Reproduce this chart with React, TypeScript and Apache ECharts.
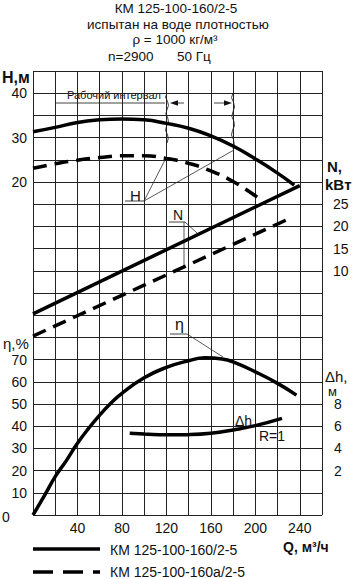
import React, { useEffect, useRef } from 'react';
import * as echarts from 'echarts';

const FONT = '"Liberation Sans", Arial, Helvetica, sans-serif';
const INK = '#111';

const SOLID = 'КМ 125-100-160/2-5';
const DASHED = 'КМ 125-100-160а/2-5';

// tick labels shown
const qLabels = [40, 80, 120, 160, 200, 240];
const etaLabels = [10, 20, 30, 40, 50, 60, 70];
const headLabels = [20, 30, 40];
const powerLabels = [10, 15, 20, 25];
const npshLabels = [2, 4, 6, 8];

// H (head), m
const headQ = [0, 20, 40, 60, 80, 100, 120, 140, 160, 180, 200, 220, 235];
const headSolid = [31.3, 32.3, 33.4, 34.0, 34.2, 34.0, 33.2, 32.1, 30.4, 28.1, 25.2, 22.0, 19.3];
const headDashQ = [0, 20, 40, 60, 80, 100, 120, 140, 160, 180, 200, 206];
const headDash = [23.1, 24.1, 24.9, 25.5, 25.9, 25.9, 25.3, 24.2, 22.5, 20.1, 16.9, 15.7];

// N (power), kW
const powerQ = [0, 240];
const powerSolid = [0.3, 29.2];
const powerDashQ = [0, 231];
const powerDash = [-4.7, 21.8];

// η (efficiency), %
const etaQ = [0, 10, 20, 30, 40, 50, 60, 70, 80, 100, 120, 140, 155, 170, 180, 200, 220, 237];
const eta = [0, 8.5, 17.3, 24.5, 32.3, 39, 45, 50.3, 54.8, 61.8, 66.5, 69.5, 70.8, 70.3, 69, 64.5, 59.3, 54];

// Δh (NPSH), m
const npshQ = [87, 100, 120, 140, 160, 180, 200, 224];
const npsh = [5.36, 5.3, 5.22, 5.24, 5.36, 5.66, 6.05, 6.7];

const pair = (qs: number[], vs: number[]) => qs.map((q, i) => [q, vs[i]]);
const only = (list: number[]) => (v: number) => (list.includes(Math.round(v * 1000) / 1000) ? String(v) : '');

const txt = (text: string, x: number, y: number, size: number, opts: any = {}) => ({
  type: 'text',
  silent: true,
  style: {
    text,
    x,
    y,
    fill: INK,
    fontSize: size,
    fontFamily: FONT,
    fontWeight: opts.bold ? 'bold' : 'normal',
    align: opts.align || 'left',
    textAlign: opts.align || 'left',
    verticalAlign: 'middle',
    textVerticalAlign: 'middle',
  },
});
const seg = (pts: number[][], w = 0.8) => ({
  type: 'polyline',
  silent: true,
  shape: { points: pts },
  style: { stroke: INK, lineWidth: w, fill: null },
});
const brace = (x: number, y0: number, y1: number) => {
  const offs = [0, -1.5, 0.5, 1.5, 0, -1.2, 0.8, 1.5, -0.5, -1.5, 0.5, 1.2, 0];
  const pts = offs.map((o, i) => [x + o, y0 + ((y1 - y0) * i) / (offs.length - 1)]);
  return seg(pts, 0.8);
};

export default function App() {
  const ref = useRef<HTMLDivElement>(null);
  useEffect(() => {
    if (!ref.current) return;
    const chart = echarts.init(ref.current, null, { renderer: 'svg' });
    const axisLabel = { fontSize: 14, fontFamily: FONT, color: INK };
    const gridLine = { show: true, lineStyle: { color: '#222', width: 1 } };
    const lineSeries = (name: string, yAxisIndex: number, data: number[][], dashed: boolean, smooth: boolean) => ({
      name,
      type: 'line',
      yAxisIndex,
      data,
      smooth,
      symbol: 'none',
      lineStyle: { color: '#000', width: 3.5, type: dashed ? [14, 8] : 'solid' },
      itemStyle: { color: '#000' },
    });
    chart.setOption({
      animation: false,
      backgroundColor: '#fff',
      grid: { left: 33, right: 33, top: 71, bottom: 64, containLabel: false },
      xAxis: {
        type: 'value',
        min: 0,
        max: 260,
        interval: 20,
        axisLine: { show: false },
        axisTick: { show: false },
        splitLine: gridLine,
        axisLabel: { ...axisLabel, margin: 6, formatter: only(qLabels) },
      },
      yAxis: [
        {
          type: 'value', position: 'left', min: 0, max: 200, interval: 10,
          axisLine: { show: false }, axisTick: { show: false }, splitLine: gridLine,
          axisLabel: { ...axisLabel, margin: 6, formatter: only(etaLabels) },
        },
        {
          type: 'value', position: 'left', min: -55, max: 45, interval: 5,
          axisLine: { show: false }, axisTick: { show: false }, splitLine: { show: false },
          axisLabel: { ...axisLabel, margin: 6, formatter: only(headLabels) },
        },
        {
          type: 'value', position: 'right', min: -45, max: 55, interval: 5,
          axisLine: { show: false }, axisTick: { show: false }, splitLine: { show: false },
          axisLabel: { ...axisLabel, margin: 11, formatter: only(powerLabels) },
        },
        {
          type: 'value', position: 'right', min: -2, max: 38, interval: 2,
          axisLine: { show: false }, axisTick: { show: false }, splitLine: { show: false },
          axisLabel: { ...axisLabel, margin: 12, formatter: only(npshLabels) },
        },
      ],
      series: [
        lineSeries(SOLID, 1, pair(headQ, headSolid), false, true),
        lineSeries(DASHED, 1, pair(headDashQ, headDash), true, true),
        lineSeries(SOLID, 2, pair(powerQ, powerSolid), false, false),
        lineSeries(DASHED, 2, pair(powerDashQ, powerDash), true, false),
        lineSeries(SOLID, 0, pair(etaQ, eta), false, true),
        lineSeries(SOLID, 3, pair(npshQ, npsh), false, true),
      ],
      graphic: [
        txt('КМ 125-100-160/2-5', 176, 8.5, 13.5, { align: 'center' }),
        txt('испытан на воде плотностью', 178, 24, 13.5, { align: 'center' }),
        txt('ρ = 1000 кг/м³', 175, 39.5, 13.5, { align: 'center' }),
        txt('n=2900', 108, 56.5, 13.5),
        txt('50 Гц', 177, 56.5, 13.5),
        txt('H,м', 2, 77, 16, { bold: true }),
        txt('η,%', 3, 343, 15),
        txt('0', 2, 517, 14),
        txt('N,', 327, 166, 15, { bold: true }),
        txt('kBт', 325, 184, 15, { bold: true }),
        txt('Δh,', 325, 376, 15),
        txt('м', 328, 391, 13),
        txt('Q, м³/ч', 283, 547, 14, { bold: true }),
        // working interval
        txt('Рабочий интервал', 67, 95, 11),
        seg([[56, 103], [165, 103]]),
        seg([[177, 103], [184, 103]]),
        { type: 'polygon', silent: true, shape: { points: [[170, 103], [178, 100.3], [178, 105.7]] }, style: { fill: INK } },
        seg([[214, 103], [225, 103]]),
        { type: 'polygon', silent: true, shape: { points: [[232, 103], [224, 100.3], [224, 105.7]] }, style: { fill: INK } },
        brace(167, 93, 143),
        brace(233, 93, 149),
        // H label
        txt('H', 130, 195, 15),
        seg([[125, 201], [144, 201]]),
        seg([[144, 201], [166, 158]], 0.7),
        seg([[144, 201], [234, 150]], 0.7),
        // N label
        txt('N', 173, 215, 14),
        seg([[169, 222], [185, 222]]),
        seg([[185, 222], [197, 233]], 0.7),
        seg([[184, 222], [184, 266]], 0.7),
        // η label
        txt('η', 175, 324, 16),
        seg([[170, 334], [187, 334]]),
        seg([[187, 334], [223, 357]], 0.7),
        // Δh label
        txt('Δh', 235, 421, 14),
        txt('R=1', 259, 436, 14),
        // legend
        { type: 'line', silent: true, shape: { x1: 33, y1: 549, x2: 100, y2: 549 }, style: { stroke: '#000', lineWidth: 3.5 } },
        txt(SOLID, 110, 550, 14),
        { type: 'line', silent: true, shape: { x1: 33, y1: 572, x2: 100, y2: 572 }, style: { stroke: '#000', lineWidth: 3.5, lineDash: [20, 10] } },
        txt(DASHED, 110, 572, 14),
      ],
    });
    return () => chart.dispose();
  }, []);
  return (
    <div
      ref={ref}
      style={{ position: 'absolute', left: 0, top: 0, width: 355, height: 579, background: '#fff' }}
    />
  );
}
